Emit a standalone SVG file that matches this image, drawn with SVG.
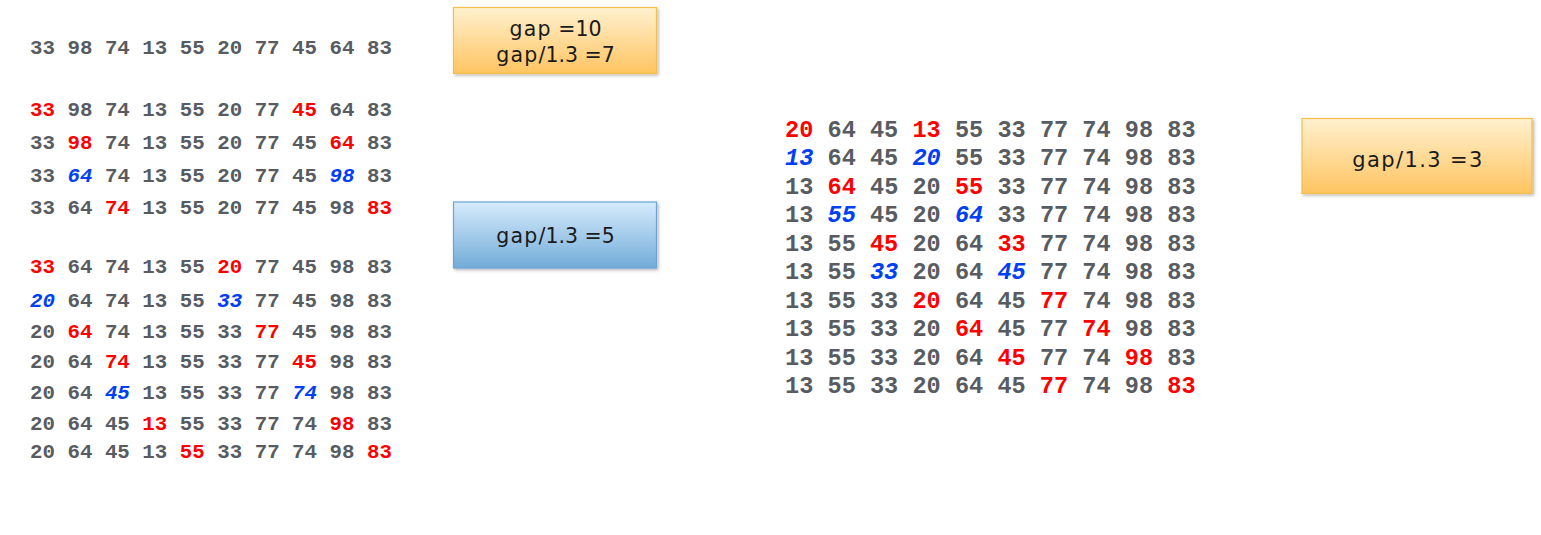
<svg xmlns="http://www.w3.org/2000/svg" width="1541" height="535" viewBox="0 0 1541 535">
<style>
.L{font-family:"Liberation Mono","DejaVu Sans Mono",monospace;font-weight:bold;font-size:20.8px;fill:#585c62}
.R{font-family:"Liberation Mono","DejaVu Sans Mono",monospace;font-weight:bold;font-size:23.6px;fill:#585c62}
.r{fill:#ff0000}
.b{fill:#0040f5;font-style:italic}
.bt{font-family:"DejaVu Sans","Verdana",sans-serif;font-size:20.5px;fill:#1a1a1a;text-anchor:middle}
.ls{letter-spacing:1.2px}
</style>
<defs>
<linearGradient id="gO" x1="0" y1="0" x2="0" y2="1"><stop offset="0" stop-color="#fff1cf"/><stop offset="1" stop-color="#ffc461"/></linearGradient>
<linearGradient id="gB" x1="0" y1="0" x2="0" y2="1"><stop offset="0" stop-color="#d6ebfc"/><stop offset="1" stop-color="#73acd9"/></linearGradient>
<filter id="sh" x="-10%" y="-10%" width="120%" height="130%"><feDropShadow dx="1.5" dy="1.5" stdDeviation="1.5" flood-color="#000" flood-opacity="0.3"/></filter>
</defs>
<rect width="1541" height="535" fill="#ffffff"/>
<g id="left-rows" xml:space="preserve">
<text class="L" x="30" y="54">33 98 74 13 55 20 77 45 64 83</text>
<text class="L" x="30" y="116"><tspan class="r">33</tspan> 98 74 13 55 20 77 <tspan class="r">45</tspan> 64 83</text>
<text class="L" x="30" y="149">33 <tspan class="r">98</tspan> 74 13 55 20 77 45 <tspan class="r">64</tspan> 83</text>
<text class="L" x="30" y="181.7">33 <tspan class="b">64</tspan> 74 13 55 20 77 45 <tspan class="b">98</tspan> 83</text>
<text class="L" x="30" y="213.5">33 64 <tspan class="r">74</tspan> 13 55 20 77 45 98 <tspan class="r">83</tspan></text>
<text class="L" x="30" y="273"><tspan class="r">33</tspan> 64 74 13 55 <tspan class="r">20</tspan> 77 45 98 83</text>
<text class="L" x="30" y="306.5"><tspan class="b">20</tspan> 64 74 13 55 <tspan class="b">33</tspan> 77 45 98 83</text>
<text class="L" x="30" y="338">20 <tspan class="r">64</tspan> 74 13 55 33 <tspan class="r">77</tspan> 45 98 83</text>
<text class="L" x="30" y="368">20 64 <tspan class="r">74</tspan> 13 55 33 77 <tspan class="r">45</tspan> 98 83</text>
<text class="L" x="30" y="398.5">20 64 <tspan class="b">45</tspan> 13 55 33 77 <tspan class="b">74</tspan> 98 83</text>
<text class="L" x="30" y="429.5">20 64 45 <tspan class="r">13</tspan> 55 33 77 74 <tspan class="r">98</tspan> 83</text>
<text class="L" x="30" y="458">20 64 45 13 <tspan class="r">55</tspan> 33 77 74 98 <tspan class="r">83</tspan></text>
</g>
<g id="right-rows" xml:space="preserve">
<text class="R" x="785" y="136.5"><tspan class="r">20</tspan> 64 45 <tspan class="r">13</tspan> 55 33 77 74 98 83</text>
<text class="R" x="785" y="165"><tspan class="b">13</tspan> 64 45 <tspan class="b">20</tspan> 55 33 77 74 98 83</text>
<text class="R" x="785" y="193.5">13 <tspan class="r">64</tspan> 45 20 <tspan class="r">55</tspan> 33 77 74 98 83</text>
<text class="R" x="785" y="222">13 <tspan class="b">55</tspan> 45 20 <tspan class="b">64</tspan> 33 77 74 98 83</text>
<text class="R" x="785" y="250.5">13 55 <tspan class="r">45</tspan> 20 64 <tspan class="r">33</tspan> 77 74 98 83</text>
<text class="R" x="785" y="279">13 55 <tspan class="b">33</tspan> 20 64 <tspan class="b">45</tspan> 77 74 98 83</text>
<text class="R" x="785" y="307.5">13 55 33 <tspan class="r">20</tspan> 64 45 <tspan class="r">77</tspan> 74 98 83</text>
<text class="R" x="785" y="336">13 55 33 20 <tspan class="r">64</tspan> 45 77 <tspan class="r">74</tspan> 98 83</text>
<text class="R" x="785" y="364.5">13 55 33 20 64 <tspan class="r">45</tspan> 77 74 <tspan class="r">98</tspan> 83</text>
<text class="R" x="785" y="393">13 55 33 20 64 45 <tspan class="r">77</tspan> 74 98 <tspan class="r">83</tspan></text>
</g>
<g id="box-gap10">
<rect x="453.5" y="7.5" width="203" height="66" fill="url(#gO)" stroke="#f4be4f" stroke-width="1.2" filter="url(#sh)"/>
<text class="bt" x="555.5" y="36"><tspan class="ls">gap</tspan> =10</text>
<text class="bt" x="555.5" y="61.5"><tspan class="ls">gap</tspan>/1.3 =7</text>
</g>
<g id="box-gap5">
<rect x="453.5" y="202" width="203" height="66" fill="url(#gB)" stroke="#6aa6d5" stroke-width="1.2" filter="url(#sh)"/>
<text class="bt" x="555.5" y="243"><tspan class="ls">gap</tspan>/1.3 =5</text>
</g>
<g id="box-gap3">
<rect x="1302" y="118.5" width="230" height="75" fill="url(#gO)" stroke="#f4be4f" stroke-width="1.2" filter="url(#sh)"/>
<text class="bt" x="1418" y="166.5" style="font-size:21px;letter-spacing:1.4px">gap/1.3 =3</text>
</g>
<g id="connectors"/>
</svg>
